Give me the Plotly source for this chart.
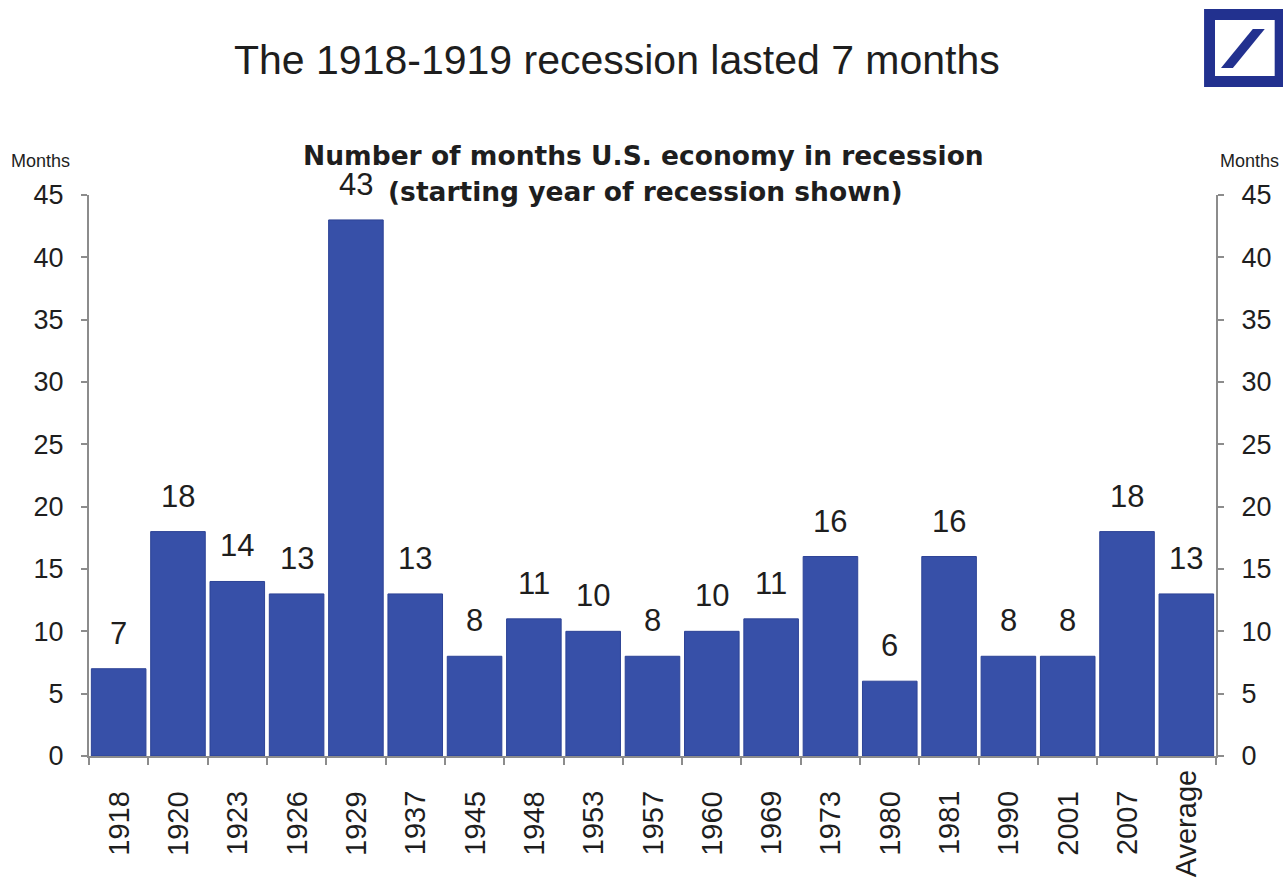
import plotly.graph_objects as go

# Recession start years and duration in months
years = ["1918", "1920", "1923", "1926", "1929", "1937", "1945", "1948", "1953",
         "1957", "1960", "1969", "1973", "1980", "1981", "1990", "2001", "2007", "Average"]
months = [7, 18, 14, 13, 43, 13, 8, 11, 10, 8, 10, 11, 16, 6, 16, 8, 8, 18, 13]
y_ticks = [0, 5, 10, 15, 20, 25, 30, 35, 40, 45]

BAR = "#3750a8"
AXIS = "#8c8c8c"
TEXT = "#1e1e1e"
LOGO = "#22318f"
FONT = "Liberation Sans, Arial, sans-serif"
BOLD_FONT = "DejaVu Sans, Verdana, sans-serif"

W, H = 1283, 887
L, R, T, B = 89, 61, 195, 131
pw, ph = W - L - R, H - T - B


def px(x):
    return (x - L) / pw


def py(y):
    return (H - B - y) / ph


fig = go.Figure()
fig.add_trace(go.Bar(
    x=years, y=months,
    marker=dict(color=BAR, line=dict(color="#2d4396", width=1)),
    hoverinfo="x+y", showlegend=False,
))
# Invisible companion trace so the right-hand axis is drawn
fig.add_trace(go.Scatter(
    x=years, y=months, yaxis="y2", mode="markers",
    marker=dict(opacity=0), hoverinfo="skip", showlegend=False,
))

annotations = []
for i, (yr, m) in enumerate(zip(years, months)):
    # value label above the bar
    annotations.append(dict(
        x=i, y=m, xref="x", yref="y", text=str(m), showarrow=False,
        yanchor="bottom", yshift=16, font=dict(family=FONT, size=31, color=TEXT),
    ))
    # rotated category label, centred vertically under the axis
    annotations.append(dict(
        x=i, y=py(823), xref="x", yref="paper", text=yr, showarrow=False,
        textangle=-90, xanchor="center", yanchor="middle",
        font=dict(family=FONT, size=29, color=TEXT),
    ))

annotations += [
    dict(x=px(620), y=py(60), xref="paper", yref="paper",
         text="The 1918-1919 recession lasted 7 months", showarrow=False,
         xanchor="center", yanchor="middle",
         font=dict(family=FONT, size=41, color=TEXT)),
    dict(x=px(646), y=py(156), xref="paper", yref="paper",
         text="<b>Number of months U.S. economy in recession</b>", showarrow=False,
         xanchor="center", yanchor="middle",
         font=dict(family=BOLD_FONT, size=26.5, color=TEXT)),
    dict(x=px(648), y=py(191), xref="paper", yref="paper",
         text="<b>(starting year of recession shown)</b>", showarrow=False,
         xanchor="center", yanchor="middle",
         font=dict(family=BOLD_FONT, size=26.5, color=TEXT)),
    dict(x=px(40), y=py(161), xref="paper", yref="paper", text="Months",
         showarrow=False, xanchor="center", yanchor="middle",
         font=dict(family="Liberation Sans Narrow, " + FONT, size=18, color=TEXT)),
    dict(x=px(1256), y=py(161), xref="paper", yref="paper", text="Months",
         showarrow=False, xanchor="center", yanchor="middle",
         font=dict(family="Liberation Sans Narrow, " + FONT, size=18, color=TEXT)),
]

# Deutsche Bank mark in the top-right corner
shapes = [
    dict(type="rect", xref="paper", yref="paper", layer="above",
         x0=px(1210), x1=px(1292), y0=py(87), y1=py(9),
         fillcolor=LOGO, line=dict(width=0)),
    dict(type="rect", xref="paper", yref="paper", layer="above",
         x0=px(1221), x1=px(1281), y0=py(76), y1=py(20),
         fillcolor="white", line=dict(width=0)),
    dict(type="path", xref="paper", yref="paper", layer="above",
         path=(f"M {px(1227)} {py(68)} L {px(1239)} {py(68)} "
               f"L {px(1271)} {py(29)} L {px(1259)} {py(29)} Z"),
         fillcolor=LOGO, line=dict(width=0)),
]

yaxis_common = dict(
    range=[0, 45], tickvals=y_ticks, showgrid=False, zeroline=False,
    showline=True, linecolor=AXIS, linewidth=2,
    ticks="outside", ticklen=6, tickwidth=2, tickcolor=AXIS,
    tickfont=dict(family=FONT, size=27, color=TEXT),
    ticklabelstandoff=12, fixedrange=True,
)

fig.update_layout(
    width=W, height=H,
    margin=dict(l=L, r=R, t=T, b=B, pad=0),
    paper_bgcolor="white", plot_bgcolor="white",
    bargap=0.08,
    xaxis=dict(
        type="category", categoryorder="array", categoryarray=years,
        range=[-0.5, len(years) - 0.5], autorange=False,
        showgrid=False, showline=True, linecolor=AXIS, linewidth=2,
        ticks="outside", ticklen=7, tickwidth=2, tickcolor=AXIS, tickson="boundaries",
        showticklabels=False, fixedrange=True,
    ),
    yaxis=dict(side="left", **yaxis_common),
    yaxis2=dict(side="right", overlaying="y", **yaxis_common),
    annotations=annotations,
    shapes=shapes,
)

fig.write_html("out.html", config={"displayModeBar": False})
